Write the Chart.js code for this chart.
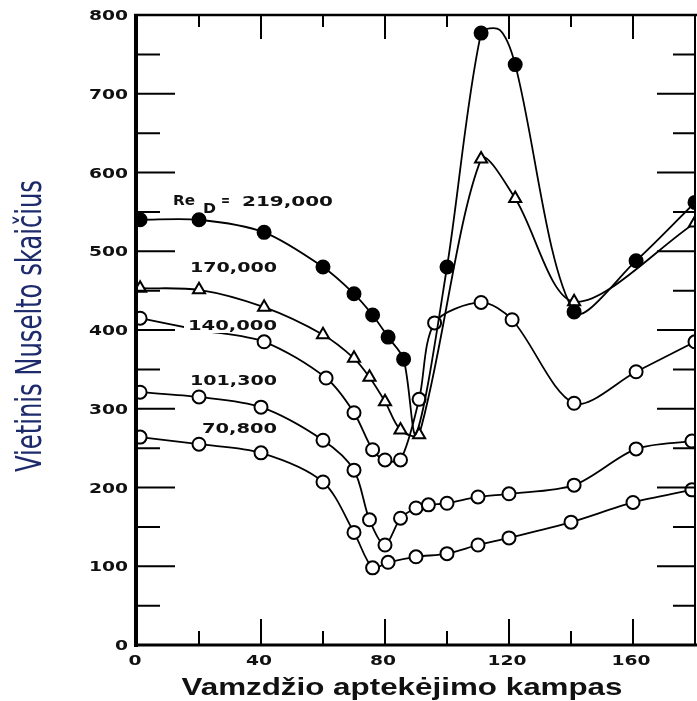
<!DOCTYPE html>
<html>
<head>
<meta charset="utf-8">
<script src="https://cdn.jsdelivr.net/npm/chart.js@4.4.0/dist/chart.umd.min.js"></script>
<style>
  body { margin: 0; background: #fff; }
  canvas { display: block; }
</style>
</head>
<body>
<canvas id="nuChart" width="697" height="701"></canvas>
<script>
// angle (deg) and local Nusselt number
const angles219 = [1, 20, 41, 60, 70, 76, 81, 86, 90, 100, 111, 117, 122, 141, 161, 180];
const nu219     = [540, 540, 524, 480, 446, 419, 391, 363, 268, 480, 777, 781, 737, 423, 488, 562];
const hidden219 = [8, 11]; // curve-only points, no marker

const angles170 = [1, 20, 41, 60, 70, 75, 80, 85, 91, 111, 122, 141, 180];
const nu170     = [453, 451, 429, 394, 364, 340, 309, 273, 267, 617, 567, 436, 536];

const angles140 = [1, 20, 41, 61, 70, 76, 80, 85, 91, 96, 111, 121, 141, 161, 180];
const nu140     = [415, 400, 385, 339, 295, 248, 235, 235, 312, 409, 435, 413, 307, 347, 385];
const hidden140 = [1]; // under the label

const angles101 = [1, 20, 40, 60, 70, 75, 80, 85, 90, 94, 100, 110, 120, 141, 161, 179];
const nu101     = [321, 315, 302, 260, 222, 159, 127, 161, 174, 178, 180, 188, 192, 203, 249, 259];

const angles71 = [1, 20, 40, 60, 70, 76, 81, 90, 100, 110, 120, 140, 160, 179];
const nu71     = [264, 255, 244, 207, 143, 98, 105, 112, 116, 127, 136, 156, 181, 197];

const xTicks = [0, 40, 80, 120, 160];
const yTicks = [0, 100, 200, 300, 400, 500, 600, 700, 800];

const seriesLabels = [
  { text: '170,000', x: 190, y: 272, w: 87 },
  { text: '140,000', x: 188, y: 330, w: 89, box: true },
  { text: '101,300', x: 190, y: 385, w: 87 },
  { text: '70,800',  x: 202, y: 433, w: 75 }
];

function pts(xs, ys) {
  return xs.map((x, i) => ({ x: x, y: ys[i] }));
}

function radii(n, r, hide) {
  let out = [];
  for (let i = 0; i < n; i++) out.push(hide && hide.includes(i) ? 0 : r);
  return out;
}

function series(xs, ys, style, fill, hide) {
  return {
    data: pts(xs, ys),
    showLine: true,
    tension: 0.3,
    borderColor: '#000',
    borderWidth: 1.8,
    pointStyle: style,
    pointRadius: radii(xs.length, style === 'triangle' ? 7 : 6.5, hide),
    pointBackgroundColor: fill,
    pointBorderColor: '#000',
    pointBorderWidth: 2
  };
}

// draw text squeezed/stretched horizontally to a given width
function fitText(ctx, text, x, y, font, width, align) {
  ctx.save();
  ctx.font = font;
  let w = ctx.measureText(text).width;
  let sx = width / w;
  ctx.translate(x, y);
  ctx.scale(sx, 1);
  ctx.textAlign = align || 'left';
  ctx.fillText(text, 0, 0);
  ctx.restore();
}

const frame = {
  id: 'frame',
  afterDatasetsDraw(chart) {
    const ctx = chart.ctx;
    const xs = chart.scales.x, ys = chart.scales.y;
    const a = chart.chartArea;
    ctx.save();
    ctx.strokeStyle = '#000';
    ctx.fillStyle = '#111';

    // y ticks, both sides, pointing inward
    ctx.lineWidth = 2;
    for (let v = 0; v <= 800; v += 50) {
      let py = ys.getPixelForValue(v);
      let major = v % 100 === 0;
      ctx.beginPath();
      ctx.moveTo(a.left, py); ctx.lineTo(a.left + (major ? 38 : 23), py);
      ctx.moveTo(a.right, py); ctx.lineTo(a.right - (major ? 38 : 22), py);
      ctx.stroke();
    }
    // x ticks, top and bottom
    for (let v = 20; v < 180; v += 20) {
      let px = xs.getPixelForValue(v);
      let major = v % 40 === 0;
      ctx.beginPath();
      ctx.moveTo(px, a.bottom); ctx.lineTo(px, a.bottom - (major ? 26 : 14));
      ctx.moveTo(px, a.top); ctx.lineTo(px, a.top + (major ? 24 : 12));
      ctx.stroke();
    }

    // frame
    ctx.lineWidth = 4;
    ctx.beginPath(); ctx.moveTo(a.left - 1, a.top - 1); ctx.lineTo(a.left - 1, a.bottom + 2); ctx.stroke();
    ctx.lineWidth = 3;
    ctx.beginPath(); ctx.moveTo(a.left - 3, a.bottom); ctx.lineTo(a.right + 2, a.bottom); ctx.stroke();
    ctx.lineWidth = 2.5;
    ctx.beginPath(); ctx.moveTo(a.left - 3, a.top); ctx.lineTo(a.right + 2, a.top); ctx.stroke();
    ctx.lineWidth = 2;
    ctx.beginPath(); ctx.moveTo(a.right, a.top); ctx.lineTo(a.right, a.bottom); ctx.stroke();

    // tick labels
    const tickFont = 'bold 14px "DejaVu Sans", sans-serif';
    yTicks.forEach(v => {
      let py = ys.getPixelForValue(v);
      let s = String(v);
      fitText(ctx, s, 128, py + 5, tickFont, 13 * s.length, 'right');
    });
    xTicks.forEach(v => {
      let px = xs.getPixelForValue(v);
      let s = String(v);
      fitText(ctx, s, px - 2, 665, tickFont, 13 * s.length, 'center');
    });

    // series labels
    const lblFont = 'bold 14px "DejaVu Sans", sans-serif';
    seriesLabels.forEach(l => {
      if (l.box) {
        ctx.fillStyle = '#fff';
        ctx.fillRect(l.x - 4, l.y - 13, l.w + 8, 16);
        ctx.fillStyle = '#111';
      }
      fitText(ctx, l.text, l.x, l.y, lblFont, l.w, 'left');
    });
    fitText(ctx, 'Re', 173, 205, lblFont, 22, 'left');
    fitText(ctx, 'D', 203, 213, lblFont, 13, 'left');
    fitText(ctx, '=', 221, 205, lblFont, 9, 'left');
    fitText(ctx, '219,000', 242, 206, lblFont, 91, 'left');

    // axis titles
    fitText(ctx, 'Vamzdžio aptekėjimo kampas', 402, 695, 'bold 24px "Liberation Sans", Arial, sans-serif', 441, 'center');
    ctx.save();
    ctx.translate(41, 326);
    ctx.rotate(-Math.PI / 2);
    ctx.fillStyle = '#1d2a6b';
    fitText(ctx, 'Vietinis Nuselto skaičius', 0, 0, '36px "Liberation Sans Narrow", "DejaVu Sans Condensed", sans-serif', 292, 'center');
    ctx.restore();

    ctx.restore();
  }
};

const ctx = document.getElementById('nuChart').getContext('2d');
new Chart(ctx, {
  type: 'scatter',
  data: {
    datasets: [
      series(angles219, nu219, 'circle', '#000', hidden219),
      series(angles170, nu170, 'triangle', '#fff'),
      series(angles140, nu140, 'circle', '#fff', hidden140),
      series(angles101, nu101, 'circle', '#fff'),
      series(angles71, nu71, 'circle', '#fff')
    ]
  },
  options: {
    responsive: false,
    animation: false,
    layout: { autoPadding: false, padding: { top: 15, right: 2, left: 0, bottom: 0 } },
    plugins: { legend: { display: false }, tooltip: { enabled: false } },
    scales: {
      x: {
        type: 'linear', min: 0, max: 180,
        grid: { display: false }, border: { display: false },
        ticks: { display: false },
        afterFit: s => { s.height = 56; }
      },
      y: {
        type: 'linear', min: 0, max: 800,
        grid: { display: false }, border: { display: false },
        ticks: { display: false },
        afterFit: s => { s.width = 137; }
      }
    }
  },
  plugins: [frame]
});
</script>
</body>
</html>
